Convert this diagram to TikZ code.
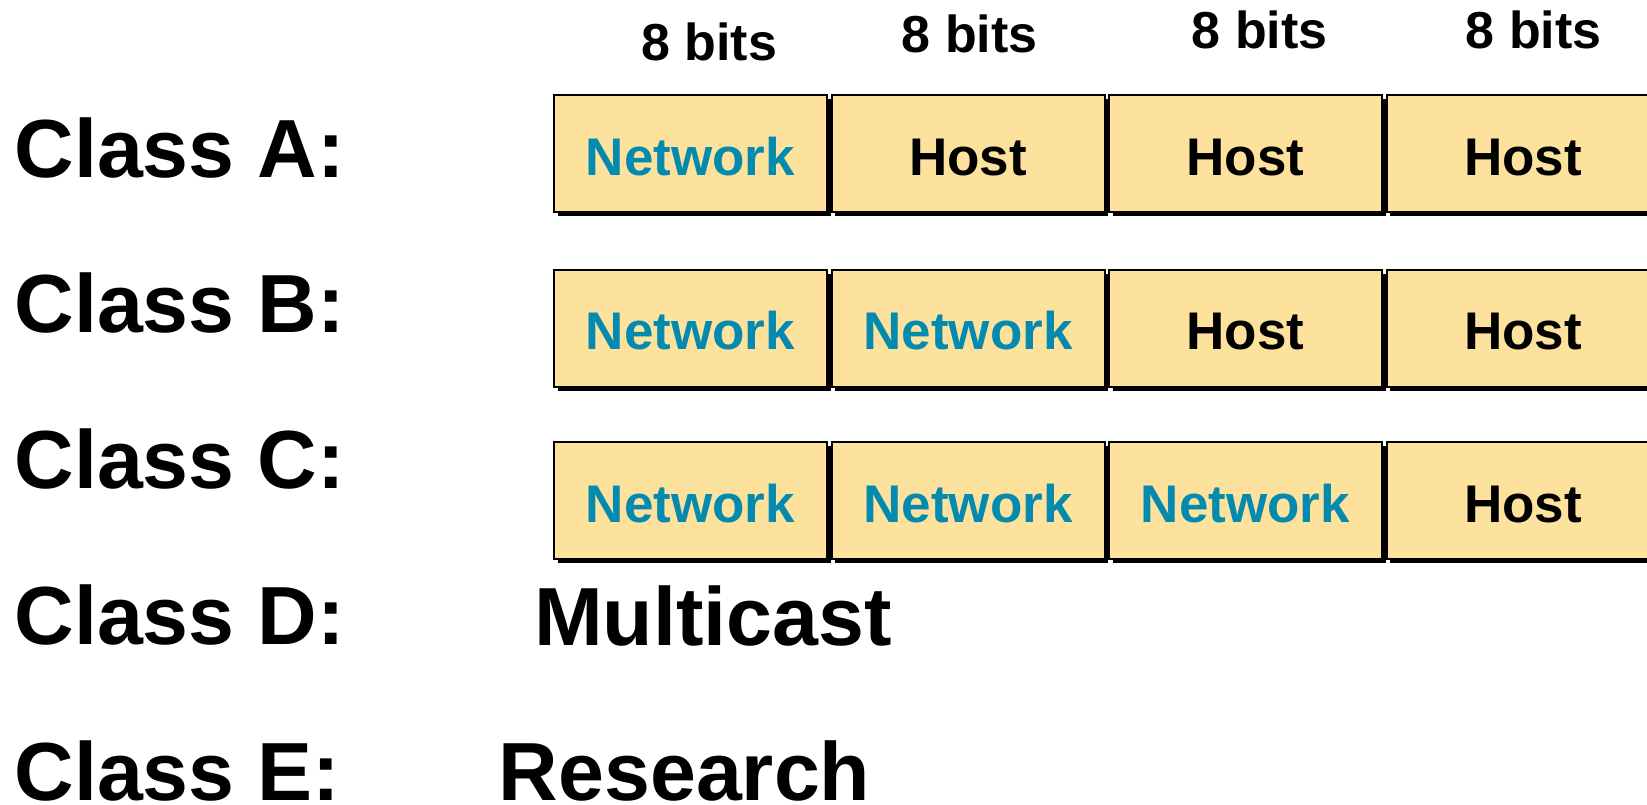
\documentclass[tikz,border=0pt]{standalone}
\usepackage{fontspec}
\setmainfont{Liberation Sans}
\usetikzlibrary{shadows}
\definecolor{cellfill}{HTML}{FDE29D}
\definecolor{netblue}{HTML}{0489AF}
\tikzset{
  x=1pt, y=-1pt,
  cell/.style={draw=black, line width=2pt, fill=cellfill,
    minimum width=273pt, minimum height=117pt, anchor=north west,
    inner sep=0pt, text height=43.6pt, text depth=0pt,
    font=\fontsize{53}{60}\selectfont\bfseries,
    drop shadow={shadow xshift=3.5pt, shadow yshift=-4pt, fill=black, opacity=1}},
  net/.style={cell, text=netblue},
  host/.style={cell, text=black},
  biglabel/.style={anchor=base west, inner sep=0pt,
    font=\fontsize{82.5}{90}\selectfont\bfseries},
  bitslabel/.style={anchor=base west, inner sep=0pt,
    font=\fontsize{52}{60}\selectfont\bfseries}
}
\begin{document}
\begin{tikzpicture}
\useasboundingbox (0,0) rectangle (1647,804);
\fill[white] (0,0) rectangle (1647,804);
\begin{scope}
\clip (0,0) rectangle (1647,804);

% field widths
\node[bitslabel] (b1) at (641,60) {8 bits};
\node[bitslabel] (b2) at (901.5,52.3) {8 bits};
\node[bitslabel] (b3) at (1191.5,48.3) {8 bits};
\node[bitslabel] (b4) at (1465.5,48.3) {8 bits};

% class labels
\node[biglabel] (ca) at (14.4,177.3) {Class A:};
\node[biglabel] (cb) at (14.4,332.7) {Class B:};
\node[biglabel] (cc) at (14.4,488.3) {Class C:};
\node[biglabel] (cd) at (14.4,644) {Class D:};
\node[biglabel] (ce) at (14.4,800) {Class E:};

% Class A
\node[net]  (a1) at (553,94)    {Network};
\node[host] (a2) at (830.5,94)  {Host};
\node[host] (a3) at (1108,94)   {Host};
\node[host] (a4) at (1385.5,94) {Host};

% Class B
\node[net]  (bb1) at (553,268.5)    {Network};
\node[net]  (bb2) at (830.5,268.5)  {Network};
\node[host] (bb3) at (1108,268.5)   {Host};
\node[host] (bb4) at (1385.5,268.5) {Host};

% Class C
\node[net]  (c1) at (553,441)    {Network};
\node[net]  (c2) at (830.5,441)  {Network};
\node[net]  (c3) at (1108,441)   {Network};
\node[host] (c4) at (1385.5,441) {Host};

% Classes D and E
\node[biglabel] (md) at (534,645) {Multicast};
\node[biglabel] (re) at (498.7,800) {Research};
\end{scope}
\end{tikzpicture}
\end{document}
